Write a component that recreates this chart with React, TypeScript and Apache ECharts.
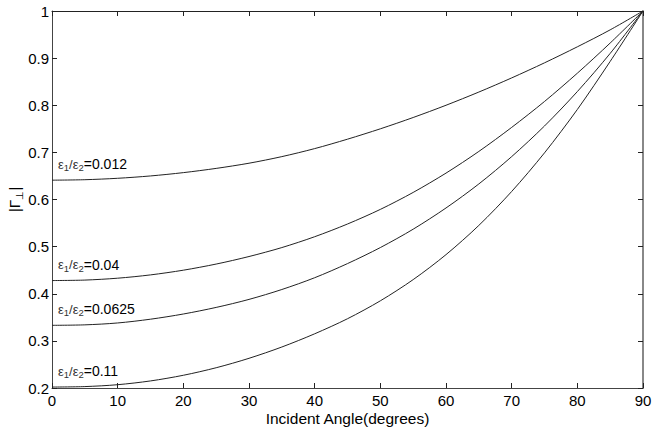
import React, { useEffect, useRef } from "react";
import * as echarts from "echarts";

const angles = [0, 5, 10, 15, 20, 25, 30, 35, 40, 45, 50, 55, 60, 65, 70, 75, 80, 85, 90];
const ratio012 = [0.641, 0.642, 0.645, 0.65, 0.657, 0.666, 0.677, 0.691, 0.708, 0.728, 0.75, 0.774, 0.8, 0.828, 0.858, 0.89, 0.924, 0.96, 1.0];
const ratio04 = [0.428, 0.429, 0.433, 0.44, 0.45, 0.463, 0.479, 0.498, 0.521, 0.548, 0.579, 0.615, 0.656, 0.702, 0.753, 0.808, 0.868, 0.932, 1.0];
const ratio0625 = [0.333, 0.334, 0.338, 0.346, 0.357, 0.371, 0.388, 0.409, 0.434, 0.464, 0.498, 0.537, 0.582, 0.633, 0.691, 0.756, 0.829, 0.91, 1.0];
const ratio11 = [0.202, 0.203, 0.207, 0.215, 0.227, 0.243, 0.263, 0.287, 0.315, 0.347, 0.385, 0.43, 0.483, 0.545, 0.617, 0.699, 0.791, 0.893, 1.0];
const seriesNames = ["0.012", "0.04", "0.0625", "0.11"];
const seriesValues = [ratio012, ratio04, ratio0625, ratio11];
const xTicks = { min: 0, max: 90, interval: 10 };
const yTicks = { min: 0.2, max: 1, interval: 0.1 };

const FONT = "Liberation Sans, Arial, sans-serif";

export default function App() {
  const ref = useRef<HTMLDivElement>(null);
  useEffect(() => {
    if (!ref.current) return;
    const chart = echarts.init(ref.current, null, { renderer: "svg" });
    const axisBase = {
      type: "value",
      splitLine: { show: false },
      axisTick: { show: true, inside: true, length: 5, lineStyle: { color: "#222", width: 1 } },
    };
    chart.setOption({
      animation: false,
      backgroundColor: "#fff",
      textStyle: { fontFamily: FONT },
      grid: { left: 52, right: 9, top: 11, bottom: 42, containLabel: false, outerBoundsMode: "none" },
      xAxis: [
        {
          ...axisBase,
          ...xTicks,
          position: "bottom",
          axisLine: { show: true, onZero: false, lineStyle: { color: "#444", width: 1 } },
          axisLabel: { show: true, color: "#000", fontSize: 15, fontFamily: FONT, margin: 5 },
          name: "Incident Angle(degrees)",
          nameLocation: "middle",
          nameGap: 22,
          nameMoveOverlap: false,
          nameTextStyle: { color: "#000", fontSize: 15.5, fontFamily: FONT },
        },
        {
          ...axisBase,
          ...xTicks,
          position: "top",
          axisLine: { show: true, onZero: false, lineStyle: { color: "#222", width: 1 } },
          axisLabel: { show: false },
        },
      ],
      yAxis: [
        {
          ...axisBase,
          ...yTicks,
          position: "left",
          axisLine: { show: true, onZero: false, lineStyle: { color: "#444", width: 1 } },
          axisLabel: { show: true, color: "#000", fontSize: 15, fontFamily: FONT, margin: 3 },
          name: "|Γ{sub|⊥}|",
          nameLocation: "middle",
          nameRotate: 90,
          nameGap: 28,
          nameMoveOverlap: false,
          nameTextStyle: {
            color: "#000",
            fontSize: 15.5,
            fontFamily: FONT,
            rich: { sub: { fontSize: 10, fontFamily: FONT, color: "#000", padding: [9, 0, 0, 0] } },
          },
        },
        {
          ...axisBase,
          ...yTicks,
          position: "right",
          axisLine: { show: true, onZero: false, lineStyle: { color: "#888", width: 2 } },
          axisLabel: { show: false },
        },
      ],
      series: seriesValues.map((vals, i) => ({
        type: "line",
        name: seriesNames[i],
        xAxisIndex: 0,
        yAxisIndex: 0,
        data: angles.map((a, j) => [a, vals[j]]),
        showSymbol: false,
        smooth: 0.3,
        lineStyle: { color: "#222", width: 1 },
        markPoint: {
          symbol: "circle",
          symbolSize: 0,
          silent: true,
          data: [
            {
              coord: [angles[0], vals[0]],
              label: {
                show: true,
                position: "right",
                offset: [1, -16],
                formatter: "{e|ε}{s|1}{e|/ε}{s|2}{v|=" + seriesNames[i] + "}",
                rich: {
                  e: { fontSize: 13, fontFamily: FONT, color: "#333" },
                  s: { fontSize: 9.5, fontFamily: FONT, color: "#333", padding: [7, 0, 0, 0] },
                  v: { fontSize: 14, fontFamily: FONT, color: "#000" },
                },
              },
            },
          ],
        },
      })),
    });
    return () => chart.dispose();
  }, []);
  return (
    <div
      ref={ref}
      style={{ position: "fixed", left: 0, top: 0, width: 652, height: 430, background: "#fff" }}
    />
  );
}
